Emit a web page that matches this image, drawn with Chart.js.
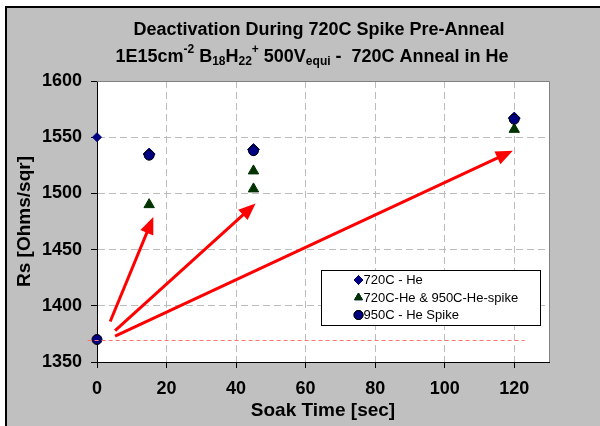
<!DOCTYPE html>
<html>
<head>
<meta charset="utf-8">
<script src="https://cdn.jsdelivr.net/npm/chart.js@4.4.0/dist/chart.umd.min.js"></script>
<style>
    body { margin: 0; background: #ffffff; }
    #frame { position: absolute; left: 5px; top: 6px; width: 620px; height: 440px; background: #c0c0c0; border-left: 2px solid #000; border-top: 2px solid #000; }
    #chartWrap { position: absolute; left: 0; top: 0; width: 600px; height: 426px; }
</style>
</head>
<body>
<div id="frame"></div>
<div id="chartWrap"><canvas id="rsChart" width="600" height="426"></canvas></div>
<script>
// values
const he720 = [[0, 1550], [15, 1535], [45, 1539], [120, 1567]];
const heSpike = [[15, 1490], [45, 1520], [45, 1504], [120, 1557]];
const spike950 = [[0, 1370], [15, 1534], [45, 1538], [120, 1566]];
const baseline = [[-2.7, 1370], [123, 1370]];
// arrows: [fromX, fromY, toX, toY]
const arrows = [
    [3.8, 1386, 16.2, 1479],
    [5.2, 1378, 45.6, 1491],
    [5.2, 1373, 119.6, 1538]
];
const seriesNames = ['720C - He', '720C-He & 950C-He-spike', '950C - He Spike'];
const titleLine1 = 'Deactivation During 720C Spike Pre-Anneal';
const titleLine2 = [
    ['1E15cm', ''], ['-2', 'sup'], [' B', ''], ['18', 'sub'], ['H', ''], ['22', 'sub'], ['+', 'sup'],
    [' 500V', ''], ['equi', 'sub'], [' -  720C Anneal in He', '']
];

function toPoints(arr) {
    return arr.map(row => ({ x: row[0], y: row[1] }));
}

const fontFamily = '"Liberation Sans", Arial, sans-serif';

const framePlugin = {
    id: 'framePlugin',
    beforeDraw: function (chart) {
        const a = chart.chartArea;
        const ctx = chart.ctx;
        ctx.save();
        ctx.fillStyle = '#ffffff';
        ctx.fillRect(a.left, a.top, a.right - a.left, a.bottom - a.top);
        ctx.restore();
    },
    afterDraw: function (chart) {
        const a = chart.chartArea;
        const ctx = chart.ctx;
        ctx.save();
        ctx.strokeStyle = '#808080';
        ctx.lineWidth = 1;
        ctx.beginPath();
        ctx.moveTo(a.left, a.top + 0.5);
        ctx.lineTo(a.right + 0.5, a.top + 0.5);
        ctx.lineTo(a.right + 0.5, a.bottom);
        ctx.stroke();
        ctx.restore();
    }
};

const titlePlugin = {
    id: 'titlePlugin',
    afterDraw: function (chart) {
        const ctx = chart.ctx;
        ctx.save();
        ctx.fillStyle = '#000000';
        ctx.textBaseline = 'middle';
        ctx.font = 'bold 18px ' + fontFamily;
        ctx.textAlign = 'center';
        ctx.fillText(titleLine1, 319, 30);

        // second line with sub/superscripts
        ctx.textAlign = 'left';
        let total = 0;
        titleLine2.forEach(function (run) {
            ctx.font = (run[1] ? 'bold 12px ' : 'bold 18px ') + fontFamily;
            total += ctx.measureText(run[0]).width;
        });
        let x = 312 - total / 2;
        titleLine2.forEach(function (run) {
            ctx.font = (run[1] ? 'bold 12px ' : 'bold 18px ') + fontFamily;
            let y = 57;
            if (run[1] === 'sup') y = 50;
            if (run[1] === 'sub') y = 62;
            ctx.fillText(run[0], x, y);
            x += ctx.measureText(run[0]).width;
        });
        ctx.restore();
    }
};

const arrowPlugin = {
    id: 'arrowPlugin',
    afterDatasetsDraw: function (chart) {
        const ctx = chart.ctx;
        const xs = chart.scales.x;
        const ys = chart.scales.y;
        ctx.save();
        // dashed baseline at the starting Rs
        ctx.strokeStyle = '#ff7373';
        ctx.lineWidth = 1;
        ctx.setLineDash([4, 3]);
        ctx.beginPath();
        ctx.moveTo(xs.getPixelForValue(baseline[0][0]), Math.round(ys.getPixelForValue(baseline[0][1])) + 0.5);
        ctx.lineTo(xs.getPixelForValue(baseline[1][0]), Math.round(ys.getPixelForValue(baseline[1][1])) + 0.5);
        ctx.stroke();
        ctx.setLineDash([]);

        ctx.strokeStyle = '#ff0000';
        ctx.fillStyle = '#ff0000';
        ctx.lineWidth = 3;
        arrows.forEach(function (a) {
            const x1 = xs.getPixelForValue(a[0]);
            const y1 = ys.getPixelForValue(a[1]);
            const x2 = xs.getPixelForValue(a[2]);
            const y2 = ys.getPixelForValue(a[3]);
            const ang = Math.atan2(y2 - y1, x2 - x1);
            const headLen = 17;
            const headW = 7;
            const bx = x2 - headLen * Math.cos(ang);
            const by = y2 - headLen * Math.sin(ang);
            ctx.beginPath();
            ctx.moveTo(x1, y1);
            ctx.lineTo(bx + 2 * Math.cos(ang), by + 2 * Math.sin(ang));
            ctx.stroke();
            ctx.beginPath();
            ctx.moveTo(x2, y2);
            ctx.lineTo(bx - headW * Math.sin(ang), by + headW * Math.cos(ang));
            ctx.lineTo(bx + headW * Math.sin(ang), by - headW * Math.cos(ang));
            ctx.closePath();
            ctx.fill();
        });
        ctx.restore();
    }
};

const legendPlugin = {
    id: 'legendPlugin',
    afterDraw: function (chart) {
        const ctx = chart.ctx;
        const a = chart.chartArea;
        const left = a.right - 227.5;
        const top = a.top + 189.5;
        ctx.save();
        ctx.fillStyle = '#ffffff';
        ctx.fillRect(left, top, 219, 55);
        ctx.strokeStyle = '#000000';
        ctx.lineWidth = 1;
        ctx.strokeRect(left, top, 219, 55);
        const order = [0, 1, 2];
        order.forEach(function (dsIndex, row) {
            const ds = chart.data.datasets[dsIndex];
            const cy = top + 9.5 + row * 17.5;
            const cx = left + 37;
            Chart.helpers.drawPoint(ctx, {
                pointStyle: ds.pointStyle,
                radius: 4.5,
                borderWidth: ds.borderWidth || 1
            }, cx, cy);
            ctx.fillStyle = ds.backgroundColor;
            ctx.strokeStyle = ds.borderColor;
            ctx.fill();
            ctx.stroke();
            ctx.fillStyle = '#000000';
            ctx.font = '13px ' + fontFamily;
            ctx.textBaseline = 'middle';
            ctx.textAlign = 'left';
            ctx.fillText(ds.label, cx + 5, cy + 0.5);
        });
        ctx.restore();
    }
};

new Chart(
    document.getElementById('rsChart'),
    {
        type: 'scatter',
        data: {
            datasets: [
                {
                    label: seriesNames[0],
                    data: toPoints(he720),
                    pointStyle: 'rectRot',
                    pointRadius: [4.5, 6, 6, 6],
                    backgroundColor: '#000080',
                    borderColor: '#000080',
                    borderWidth: 1,
                    clip: false,
                    order: 1
                },
                {
                    label: seriesNames[1],
                    data: toPoints(heSpike),
                    pointStyle: 'triangle',
                    pointRadius: 6,
                    backgroundColor: '#003300',
                    borderColor: '#003300',
                    borderWidth: 1,
                    clip: false,
                    order: 2
                },
                {
                    label: seriesNames[2],
                    data: toPoints(spike950),
                    pointStyle: 'circle',
                    pointRadius: 5,
                    backgroundColor: '#000080',
                    borderColor: '#000000',
                    borderWidth: 1,
                    clip: false,
                    order: 0
                }
            ]
        },
        options: {
            responsive: false,
            animation: false,
            events: [],
            layout: { padding: { top: 81, right: 51, left: 0, bottom: 0 } },
            plugins: {
                legend: { display: false },
                title: { display: false },
                tooltip: { enabled: false }
            },
            scales: {
                x: {
                    type: 'linear',
                    min: 0,
                    max: 130,
                    afterFit: function (scale) { scale.height = 64; },
                    ticks: {
                        stepSize: 20,
                        includeBounds: false,
                        color: '#000000',
                        padding: 10,
                        callback: value => String(value),
                        font: { family: fontFamily, size: 18, weight: 'bold' }
                    },
                    grid: {
                        color: ctx => (ctx.tick && ctx.tick.value === 0) ? 'rgba(0,0,0,0)' : '#bcbcbc',
                        tickColor: '#000000',
                        tickLength: 6
                    },
                    border: { color: '#000000', width: 1, dash: [7, 4] },
                    title: {
                        display: true,
                        text: 'Soak Time [sec]',
                        color: '#000000',
                        padding: { top: 0, bottom: 4 },
                        font: { family: fontFamily, size: 19, weight: 'bold' }
                    }
                },
                y: {
                    type: 'linear',
                    min: 1350,
                    max: 1600,
                    afterFit: function (scale) { scale.width = 97; },
                    ticks: {
                        stepSize: 50,
                        color: '#000000',
                        padding: 9,
                        callback: value => String(value),
                        font: { family: fontFamily, size: 18, weight: 'bold' }
                    },
                    grid: {
                        color: ctx => (ctx.tick && (ctx.tick.value === 1350 || ctx.tick.value === 1600)) ? 'rgba(0,0,0,0)' : '#bcbcbc',
                        tickColor: '#000000',
                        tickLength: 6
                    },
                    border: { color: '#000000', width: 1, dash: [7, 4] },
                    title: {
                        display: true,
                        text: 'Rs [Ohms/sqr]',
                        color: '#000000',
                        padding: { top: 13, bottom: 0 },
                        font: { family: fontFamily, size: 19, weight: 'bold' }
                    }
                }
            }
        },
        plugins: [framePlugin, titlePlugin, arrowPlugin, legendPlugin]
    }
);
</script>
</body>
</html>
